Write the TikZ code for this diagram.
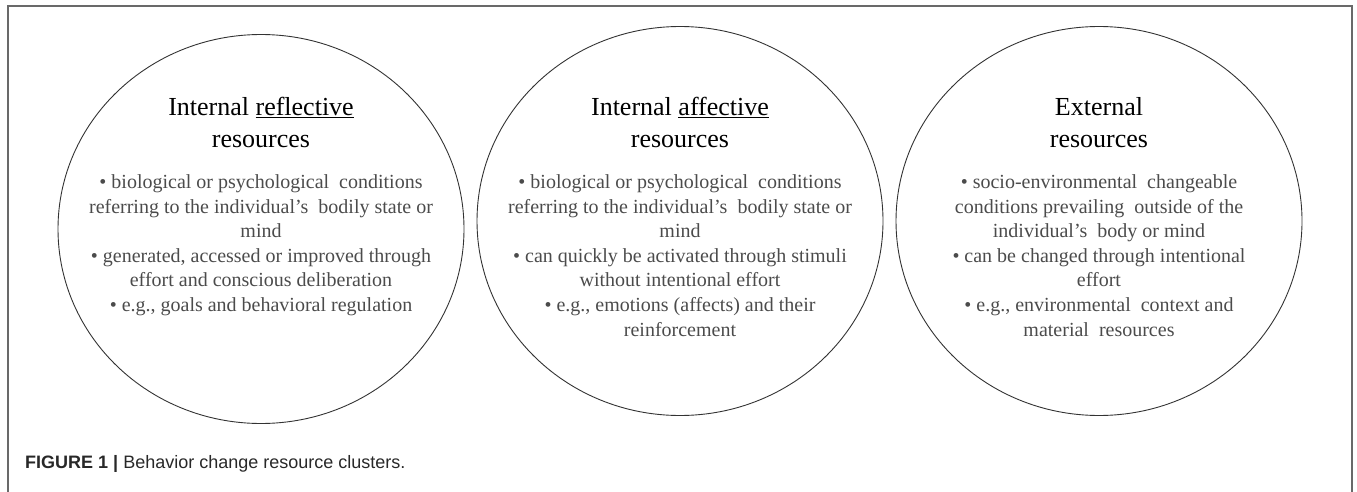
\documentclass[tikz,border=0pt]{standalone}
\usepackage{fontspec}
\setmainfont{Liberation Serif}
\newfontfamily\captionfont{Liberation Sans}
\usetikzlibrary{shapes.geometric,positioning}
\definecolor{framegray}{RGB}{105,105,105}
\definecolor{bodygray}{RGB}{75,75,75}
\definecolor{captiongray}{RGB}{40,40,40}

\begin{document}
\begin{tikzpicture}[
    x=1pt, y=-1pt,
    every node/.style={align=center, inner sep=0pt},
    cluster/.style={ellipse, draw=black!80, line width=0.9pt, minimum width=406pt, minimum height=389pt},
    heading/.style={font=\fontsize{26}{32}\selectfont, text=black, anchor=north},
    bullets/.style={font=\fontsize{20}{24.6}\selectfont, text=bodygray, anchor=north}
]
\useasboundingbox (0,0) rectangle (1357,492);

% Outer frame (runs off the bottom)
\draw[framegray, line width=1.3pt] (8,492) -- (8,6) -- (1352,6) -- (1352,492);

% Circles
\node[cluster] (refl) at (261,229) {};
\node[cluster] (affe) at (680,221) {};
\node[cluster] (extn) at (1099,221) {};

% Headings
\node[heading] (reflHead) at (261,97) {Internal \underline{reflective}\\resources};
\node[heading] (affeHead) at (680,97) {Internal \underline{affective}\\resources};
\node[heading] (extnHead) at (1099,97) {External\\resources};

% Bullet lists
\node[bullets] (reflText) at (261,174.5) {%
    • biological or psychological\ \ conditions\\
    referring to the individual’s\ \ bodily state or\\
    mind\\
    • generated, accessed or improved through\\
    effort and conscious deliberation\\
    • e.g., goals and behavioral regulation};
\node[bullets] (affeText) at (680,174.5) {%
    • biological or psychological\ \ conditions\\
    referring to the individual’s\ \ bodily state or\\
    mind\\
    • can quickly be activated through stimuli\\
    without intentional effort\\
    • e.g., emotions (affects) and their\\
    reinforcement};
\node[bullets] (extnText) at (1099,174.5) {%
    • socio-environmental\ \ changeable\\
    conditions prevailing\ \ outside of the\\
    individual’s\ \ body or mind\\
    • can be changed through intentional\\
    effort\\
    • e.g., environmental\ \ context and\\
    material\ \ resources};

% Caption
\node[anchor=base west, font=\captionfont\fontsize{18}{22}\selectfont, text=captiongray] (caption) at (25,468)
    {\textbf{FIGURE 1 |} Behavior change resource clusters.};

\end{tikzpicture}
\end{document}
